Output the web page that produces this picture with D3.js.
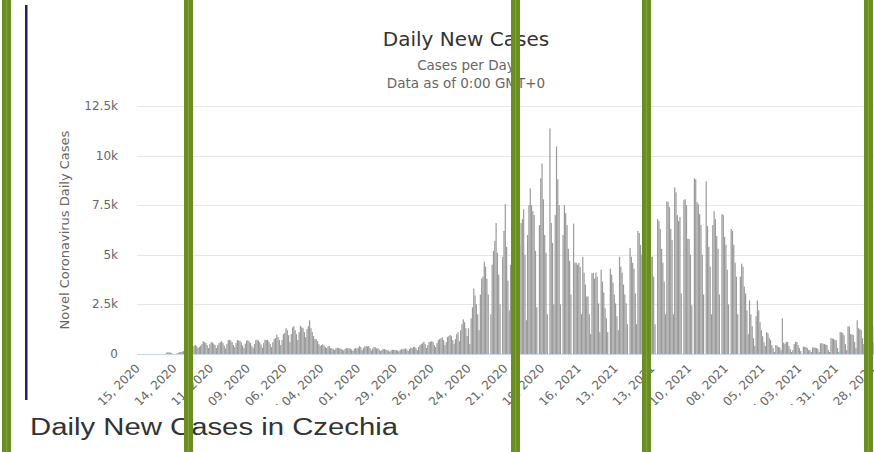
<!DOCTYPE html>
<html>
<head>
<meta charset="utf-8">
<script src="https://cdn.jsdelivr.net/npm/d3@7"></script>
<style>
  body { margin: 0; background: #fff; overflow: hidden; }
  svg { display: block; }
</style>
</head>
<body>
<div class="chart"></div>
<script>
const w = 874;
const h = 452;

// daily new cases, one value per day starting Feb 15, 2020
const startDate = new Date(2020, 1, 15);
const dailyCases = [
  0,0,0,0,0,0,0,
  0,0,0,0,0,0,0,
  0,0,0,0,0,0,0,
  0,60,90,80,70,40,0,
  0,0,30,60,90,100,120,
  150,250,300,350,300,250,300,
  350,420,450,400,300,350,420,
  500,640,600,550,450,300,500,
  600,580,520,450,300,450,550,
  600,650,550,420,280,500,700,
  720,680,600,450,350,550,700,
  680,650,580,430,300,520,680,
  690,640,560,400,300,500,700,
  720,680,600,480,320,550,720,
  700,720,620,500,350,600,750,
  800,980,850,700,450,700,1000,
  1050,1300,1200,950,600,1000,1340,
  1400,1200,1000,700,1100,1420,1350,
  1300,1100,850,1250,1400,1700,1300,
  1100,900,750,750,650,500,400,
  450,490,420,350,300,380,400,
  300,280,250,200,280,320,300,
  280,260,220,180,250,300,290,
  290,270,230,150,260,300,280,
  320,400,350,200,300,380,400,
  380,400,300,180,280,350,330,
  280,300,220,150,200,260,250,
  220,200,180,120,180,220,200,
  210,200,170,130,200,250,230,
  260,280,230,160,250,320,300,
  350,370,300,200,350,450,500,
  550,620,500,300,450,600,620,
  650,600,450,350,550,700,750,
  800,840,700,450,600,850,900,
  960,900,700,500,750,1000,1100,
  650,1200,1500,1750,1600,1300,900,
  1300,500,1800,2350,3300,2950,2500,
  2000,1200,3000,3800,3900,4650,4400,
  3800,3000,0,2000,4500,5200,5700,
  6600,5100,4000,2500,0,4900,6200,
  7550,5400,3700,2200,4500,6000,6600,
  7000,5500,3500,1500,5500,6600,6800,
  7300,5000,1700,6000,7500,8350,7500,
  7200,7000,5200,2350,0,6500,8850,
  9600,7800,6000,5100,2000,0,11370,
  6600,5600,2500,7000,10460,8800,7500,
  2500,0,6000,7500,7100,6500,5300,
  4700,3000,0,6570,4600,4600,4500,
  4600,4400,2000,4900,4100,3500,2900,
  2900,2000,1000,4070,4100,3800,4100,
  3900,2550,1100,4250,3650,3100,2300,
  1800,1100,0,4300,4000,3600,3000,
  2550,1900,1200,4900,4400,4100,3500,
  3000,2550,1500,0,5350,4900,4600,
  4300,3050,1500,6200,6100,5500,5000,
  4500,3000,1500,5200,5350,5300,4900,
  4900,3900,1500,0,6800,6700,6300,
  5300,4600,3650,2000,7700,7650,7400,
  6300,5750,2000,8400,8150,7000,6700,
  6900,3050,0,7760,7800,7500,5800,
  5800,5000,2450,0,8850,8800,7650,
  7550,7050,6500,5000,3000,0,8700,
  6450,5400,4400,2000,6500,7200,6800,
  5950,5300,3000,0,7050,7000,5900,
  5500,4250,2500,0,6300,6200,5500,
  4600,3900,2000,0,3900,4550,4400,
  3400,3050,2200,1000,2700,2000,1400,
  800,400,1900,2700,2200,1600,1200,
  900,600,400,1100,1050,800,700,
  450,300,100,450,430,350,330,
  200,1800,570,500,620,600,400,
  250,100,200,500,620,600,450,
  300,150,0,370,360,350,300,
  200,200,100,330,330,320,300,
  250,100,540,540,520,500,480,
  450,200,100,800,780,760,700,
  700,300,100,1100,1100,1050,950,
  500,200,1400,1380,1000,1000,950,
  600,300,1700,1300,1250,1200,800,
  500,1500,1450,1400,1350,1300,1000,
  600,1450
];

// x labels shown every 28 days
const xTickLabels = [
  "Feb 15, 2020", "Mar 14, 2020", "Apr 11, 2020", "May 09, 2020", "Jun 06, 2020",
  "Jul 04, 2020", "Aug 01, 2020", "Aug 29, 2020", "Sep 26, 2020", "Oct 24, 2020",
  "Nov 21, 2020", "Dec 19, 2020", "Jan 16, 2021", "Feb 13, 2021", "Mar 13, 2021",
  "Apr 10, 2021", "May 08, 2021", "Jun 05, 2021", "Jul 03, 2021", "Jul 31, 2021",
  "Aug 28, 2021"
];
const yTicks = [0, 2500, 5000, 7500, 10000, 12500];
const yTickLabels = ["0", "2.5k", "5k", "7.5k", "10k", "12.5k"];

const fmt = d3.timeFormat("%b %d, %Y");
const categories = dailyCases.map((v, i) => fmt(d3.timeDay.offset(startDate, i)));

// page decorations seen over the screenshot
const overlayBars = [2, 184, 511, 642, 864];

const plot = { left: 137, top: 106, bottom: 354, step: 1.313 };

let svg = d3.select("body").select(".chart")
    .append("svg")
    .attr("width", w)
    .attr("height", h);

svg.append("defs").append("clipPath")
    .attr("id", "chart-clip")
  .append("rect")
    .attr("x", 0).attr("y", 0)
    .attr("width", w).attr("height", 405);

let chart = svg.append("g").attr("clip-path", "url(#chart-clip)");

let x = d3.scaleBand()
    .domain(categories)
    .range([plot.left, plot.left + categories.length * plot.step])
    .paddingInner(0.08);

let y = d3.scaleLinear()
    .domain([0, 12500])
    .range([plot.bottom, plot.top]);

const font = "'DejaVu Sans', Verdana, sans-serif";

// gridlines + y labels
chart.append("g")
    .selectAll("line")
    .data(yTicks.slice(1))
    .enter()
    .append("line")
    .attr("x1", plot.left)
    .attr("x2", w)
    .attr("y1", (d) => Math.round(y(d)) + 0.5)
    .attr("y2", (d) => Math.round(y(d)) + 0.5)
    .attr("stroke", "#e6e6e6");

chart.append("g")
    .selectAll("text")
    .data(yTicks)
    .enter()
    .append("text")
    .attr("x", 118)
    .attr("y", (d) => y(d) + 4)
    .attr("text-anchor", "end")
    .attr("font-family", font)
    .attr("font-size", 12)
    .attr("fill", "#666")
    .text((d, i) => yTickLabels[i]);

chart.append("text")
    .attr("transform", "translate(69," + (plot.top + plot.bottom) / 2 + ") rotate(-90)")
    .attr("text-anchor", "middle")
    .attr("font-family", font)
    .attr("font-size", 13)
    .attr("fill", "#666")
    .text("Novel Coronavirus Daily Cases");

// bars
chart.append("g")
    .selectAll("rect")
    .data(dailyCases)
    .enter()
    .append("rect")
    .attr("x", (d, i) => x(categories[i]))
    .attr("width", x.bandwidth())
    .attr("y", (d) => y(d))
    .attr("height", (d) => plot.bottom - y(d))
    .attr("fill", "#9a9a9a");

chart.append("line")
    .attr("x1", plot.left)
    .attr("x2", w)
    .attr("y1", plot.bottom + 0.5)
    .attr("y2", plot.bottom + 0.5)
    .attr("stroke", "#ccd6eb");

// x labels
chart.append("g")
    .selectAll("text")
    .data(xTickLabels)
    .enter()
    .append("text")
    .attr("transform", (d) => "translate(" + (x(d) + x.bandwidth() / 2 + 3) + ",369) rotate(-45)")
    .attr("text-anchor", "end")
    .attr("font-family", font)
    .attr("font-size", 12)
    .attr("fill", "#666")
    .text((d) => d);

// titles
chart.append("text")
    .attr("x", 466)
    .attr("y", 46)
    .attr("text-anchor", "middle")
    .attr("font-family", font)
    .attr("font-size", 20)
    .attr("fill", "#333")
    .text("Daily New Cases");

chart.append("text")
    .attr("x", 466)
    .attr("y", 70)
    .attr("text-anchor", "middle")
    .attr("font-family", font)
    .attr("font-size", 13.5)
    .attr("fill", "#666")
    .text("Cases per Day");

chart.append("text")
    .attr("x", 466)
    .attr("y", 88)
    .attr("text-anchor", "middle")
    .attr("font-family", font)
    .attr("font-size", 13.5)
    .attr("fill", "#666")
    .text("Data as of 0:00 GMT+0");

// page heading under the chart
svg.append("text")
    .attr("x", 30)
    .attr("y", 435)
    .attr("font-family", "'Liberation Sans', Arial, sans-serif")
    .attr("font-size", 23)
    .attr("textLength", 368)
    .attr("lengthAdjust", "spacingAndGlyphs")
    .attr("fill", "#333")
    .text("Daily New Cases in Czechia");

// dark vertical rule at the left
svg.append("rect")
    .attr("x", 25)
    .attr("y", 5)
    .attr("width", 2.5)
    .attr("height", 395)
    .attr("fill", "#2a1c66");

// green overlay stripes
let stripes = svg.append("g");
stripes.selectAll("rect")
    .data(overlayBars)
    .enter()
    .append("rect")
    .attr("x", (d) => d)
    .attr("y", 0)
    .attr("width", 9)
    .attr("height", h)
    .attr("fill", "#6b8e23");
stripes.selectAll("line")
    .data(overlayBars)
    .enter()
    .append("line")
    .attr("x1", (d) => d + 4.5)
    .attr("x2", (d) => d + 4.5)
    .attr("y1", 0)
    .attr("y2", h)
    .attr("stroke", "#82a33f")
    .attr("stroke-width", 1);
</script>
</body>
</html>
